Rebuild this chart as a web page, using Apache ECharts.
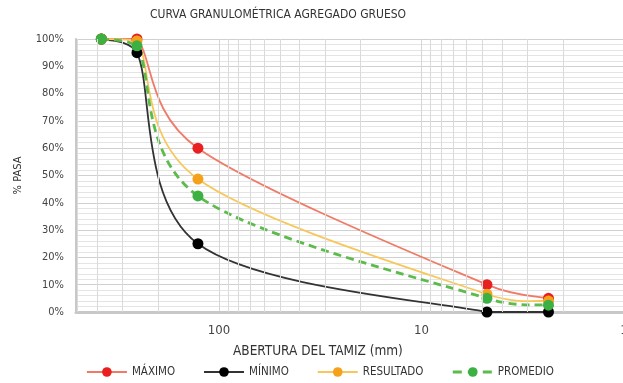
<!DOCTYPE html>
<html><head><meta charset="utf-8">
<script src="https://cdn.jsdelivr.net/npm/echarts@6/dist/echarts.min.js"></script>
<style>html,body{margin:0;padding:0;background:#fff}#c{width:623px;height:383px}</style>
</head><body><div id="c"></div>
<script>
// Data
const sieveOpenings = [381, 254, 127, 4.75, 2.36]; // mm
const maximo    = [100, 100, 60, 10, 5];
const minimo    = [100, 95, 25, 0, 0];
const resultado = [100, 99.3, 48.7, 6.5, 4];
const promedio  = [100, 97.5, 42.5, 5, 2.5];
const xTickLabels = [1, 10, 100];
const minorGridValues = [2,3,4,5,6,7,8,9,20,30,40,50,60,70,80,90,200,300,400,500];
const seriesNames = ['MÁXIMO', 'MÍNIMO', 'RESULTADO', 'PROMEDIO'];

const FONT = "'DejaVu Sans Condensed', Roboto, sans-serif";
const pair = arr => sieveOpenings.map((x, i) => [x, arr[i]]);

const styles = [
  {values: maximo,    line: '#f07a66', dot: '#e8201f', width: 1.8, dash: null},
  {values: minimo,    line: '#333333', dot: '#000000', width: 1.8, dash: null},
  {values: resultado, line: '#f8c75a', dot: '#f5a21b', width: 1.8, dash: null},
  {values: promedio,  line: '#5cbb4a', dot: '#3cb043', width: 2.8, dash: [8, 5]}
];

// Excel-like smoothed curve drawn through the library's coordinate system
function curveRenderer(values, st) {
  return function (params, api) {
    if (params.dataIndex !== 0) return null;
    const cs = params.coordSys;
    const yTop = cs.y, yBot = cs.y + cs.height;
    const pts = sieveOpenings.map((x, i) => api.coord([x, values[i]]));
    const n = pts.length;
    const P = i => pts[Math.max(0, Math.min(n - 1, i))];
    const dist = (a, b) => Math.hypot(a[0] - b[0], a[1] - b[1]);
    const cl = y => Math.max(yTop, Math.min(yBot, y));
    let d = 'M' + pts[0][0] + ' ' + pts[0][1];
    for (let i = 0; i < n - 1; i++) {
      const p0 = P(i - 1), p1 = P(i), p2 = P(i + 1), p3 = P(i + 2);
      const d12 = dist(p1, p2), d02 = dist(p0, p2), d13 = dist(p1, p3);
      let f1 = 1 / 6, f2 = 1 / 6;
      if (d02 / 6 > d12 / 2 && d02 > 0) f1 = d12 / (2 * d02);
      if (d13 / 6 > d12 / 2 && d13 > 0) f2 = d12 / (2 * d13);
      const c1x = p1[0] + (p2[0] - p0[0]) * f1, c1y = cl(p1[1] + (p2[1] - p0[1]) * f1);
      const c2x = p2[0] - (p3[0] - p1[0]) * f2, c2y = cl(p2[1] - (p3[1] - p1[1]) * f2);
      d += ' C' + c1x + ' ' + c1y + ' ' + c2x + ' ' + c2y + ' ' + p2[0] + ' ' + p2[1];
    }
    return {
      type: 'path',
      shape: {pathData: d},
      style: {fill: null, stroke: st.line, lineWidth: st.width, lineDash: st.dash || null}
    };
  };
}

const series = [];
styles.forEach((st, k) => {
  series.push({
    name: seriesNames[k] + ' curva', type: 'custom', data: pair(st.values),
    renderItem: curveRenderer(st.values, st), silent: true, z: 2 + k * 0.1,
    encode: {x: 0, y: 1}
  });
});
styles.forEach((st, k) => {
  series.push({
    name: seriesNames[k], type: 'line', data: pair(st.values),
    symbol: 'circle', symbolSize: 11, showAllSymbol: true,
    lineStyle: {color: st.line, width: st.width, opacity: 0},
    itemStyle: {color: st.dot},
    z: 4
  });
});
series[0].markLine = {
  silent: true, symbol: 'none', label: {show: false}, animation: false,
  lineStyle: {color: '#dadada', type: 'solid', width: 1},
  data: minorGridValues.map(v => ({xAxis: v}))
};

const chart = echarts.init(document.getElementById('c'), null, {renderer: 'canvas'});
chart.setOption({
  backgroundColor: '#fff',
  animation: false,
  textStyle: {fontFamily: FONT},
  title: [
    {text: 'CURVA GRANULOMÉTRICA AGREGADO GRUESO', left: 145, top: 4,
     textStyle: {fontFamily: FONT, fontSize: 12, fontWeight: 'normal', color: '#333'}},
    {text: 'ABERTURA DEL TAMIZ (mm)', left: 228, top: 339,
     textStyle: {fontFamily: FONT, fontSize: 13.5, fontWeight: 'normal', color: '#333'}}
  ],
  grid: {left: 76, top: 39, width: 548, bottom: 71, outerBoundsMode: 'none', containLabel: false},
  legend: {
    left: 81, top: 361, itemWidth: 40, itemHeight: 12, itemGap: 28,
    textStyle: {fontFamily: FONT, fontSize: 11.5, color: '#333'},
    data: styles.map((st, k) => ({
      name: seriesNames[k],
      lineStyle: {color: st.line, width: st.width, opacity: 1, type: st.dash ? [9, 6] : 'solid'}
    }))
  },
  xAxis: {
    type: 'log', logBase: 10, min: 1, max: 508, inverse: true,
    axisLine: {show: true, onZero: false, lineStyle: {color: '#c8c8c8', width: 3}},
    axisTick: {show: false},
    axisLabel: {
      margin: 12, fontSize: 13, color: '#444', fontFamily: FONT,
      showMinLabel: true, showMaxLabel: false,
      formatter: v => xTickLabels.some(t => Math.abs(t - v) < 1e-6) ? String(Math.round(v)) : ''
    },
    splitLine: {show: true, lineStyle: {color: '#d6d6d6', width: 1}}
  },
  yAxis: {
    type: 'value', min: 0, max: 100, interval: 10,
    name: '% PASA', nameLocation: 'middle', nameGap: 52, nameRotate: 90,
    nameTextStyle: {fontFamily: FONT, fontSize: 11, color: '#333'},
    axisLine: {show: true, lineStyle: {color: '#c8c8c8', width: 2}},
    axisTick: {show: false},
    axisLabel: {margin: 12, fontSize: 11, color: '#444', fontFamily: FONT, formatter: '{value}%'},
    splitLine: {show: true, lineStyle: {color: '#d0d0d0', width: 1}},
    minorTick: {show: false, splitNumber: 5},
    minorSplitLine: {show: true, lineStyle: {color: '#e4e4e4', width: 1}}
  },
  series: series
});
</script>
</body></html>
